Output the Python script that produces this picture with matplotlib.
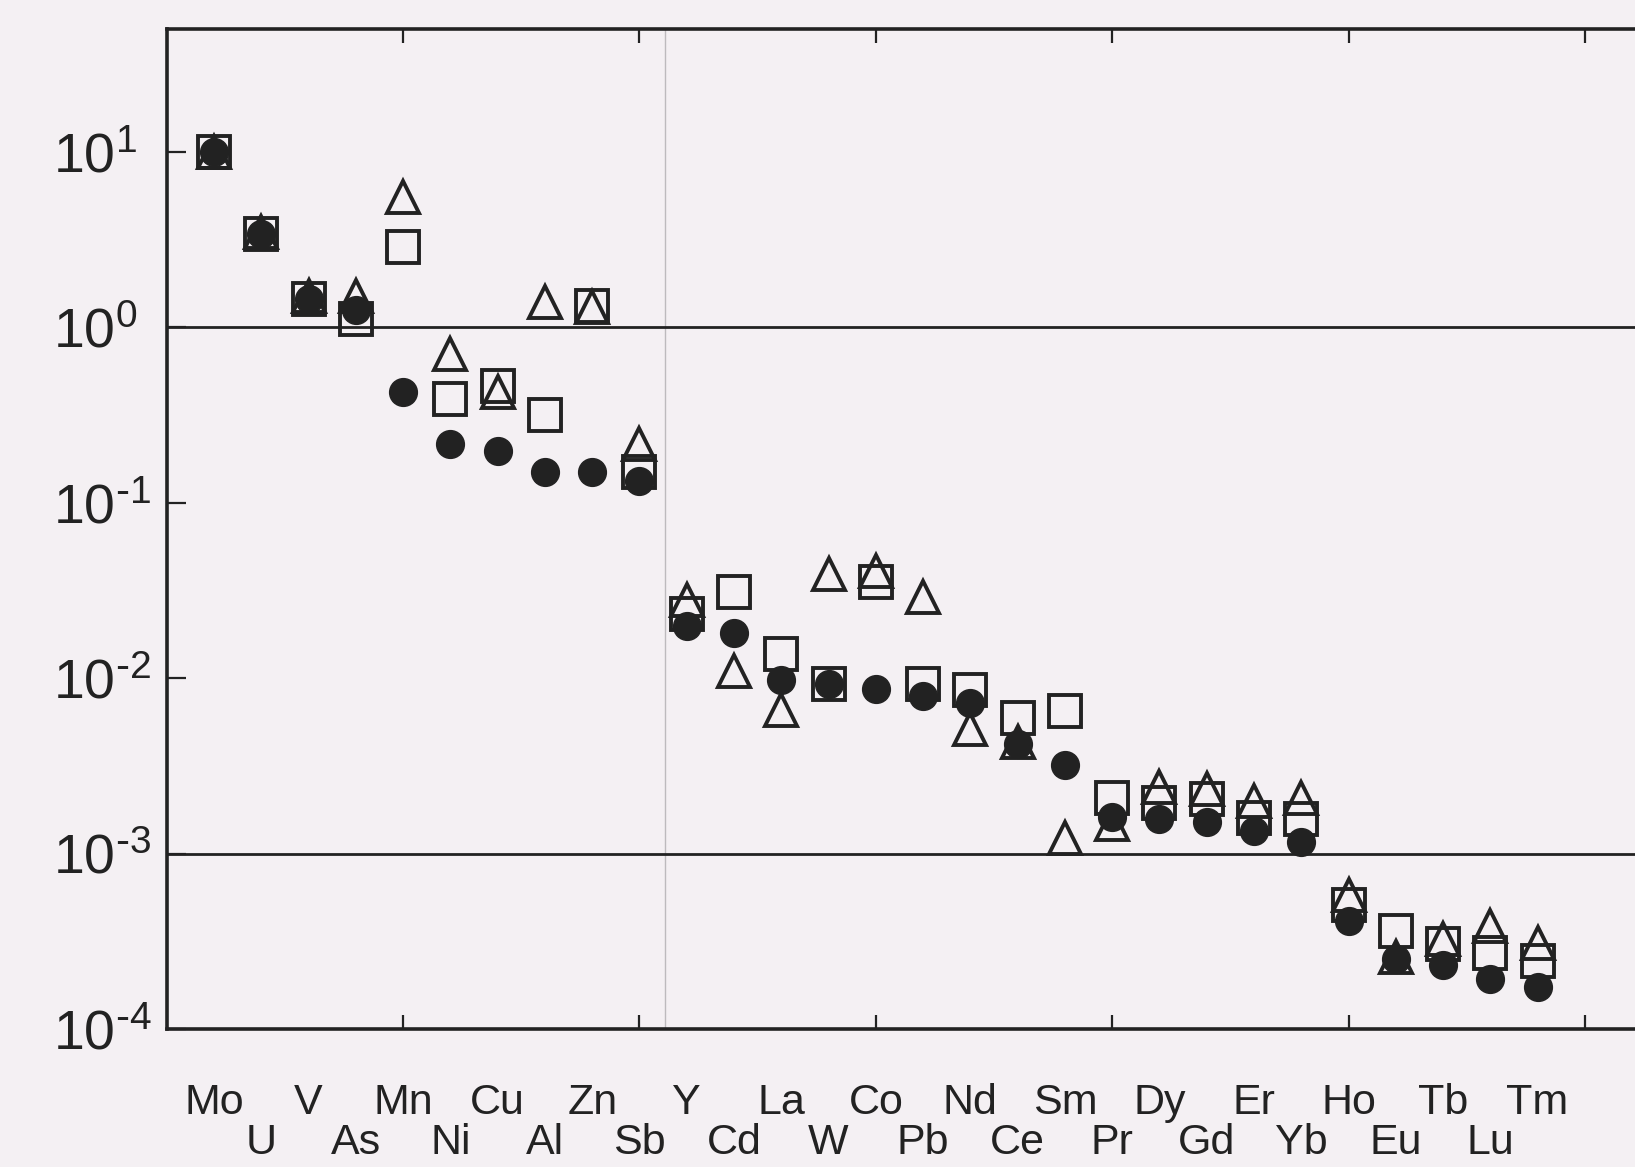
import matplotlib
matplotlib.use('Agg')
import matplotlib.pyplot as plt
from matplotlib.ticker import FixedLocator, NullFormatter

plt.rcParams['font.family'] = ['Liberation Sans', 'DejaVu Sans']
plt.rcParams['mathtext.default'] = 'regular'

# Elementos en el orden del eje x
elementos = ['Mo', 'U', 'V', 'As', 'Mn', 'Ni', 'Cu', 'Al', 'Zn', 'Sb',
             'Y', 'Cd', 'La', 'W', 'Co', 'Pb', 'Nd', 'Ce', 'Sm', 'Pr',
             'Dy', 'Gd', 'Er', 'Yb', 'Ho', 'Eu', 'Tb', 'Lu', 'Tm']

# Serie de circulos rellenos
circulos = [10, 3.4, 1.45, 1.25, 0.43, 0.215, 0.196, 0.149, 0.149, 0.133,
            0.0198, 0.0181, 0.0097, 0.0093, 0.0087, 0.0079, 0.0072, 0.0042, 0.0032, 0.00162,
            0.00157, 0.00152, 0.00135, 0.00117, 0.00041, 0.00025, 0.00023, 0.000193, 0.000173]

# Serie de cuadrados abiertos
cuadrados = [10, 3.4, 1.45, 1.12, 2.87, 0.39, 0.46, 0.316, 1.32, 0.15,
             0.0233, 0.0311, 0.0138, 0.0093, 0.0355, 0.0092, 0.0086, 0.0059, 0.0065, 0.00206,
             0.00195, 0.00204, 0.0016, 0.00158, 0.00051, 0.000361, 0.000306, 0.000272, 0.000245]

# Serie de triangulos abiertos
triangulos = [10, 3.5, 1.5, 1.5, 5.5, 0.70, 0.43, 1.39, 1.30, 0.215,
              0.0277, 0.0110, 0.0066, 0.039, 0.041, 0.029, 0.0051, 0.0043, 0.00122, 0.00148,
              0.0024, 0.00233, 0.0020, 0.00206, 0.00058, 0.000257, 0.000324, 0.000386, 0.00031]

etiquetas_y = ['$10^{\\text{-}4}$', '$10^{\\text{-}3}$', '$10^{\\text{-}2}$',
               '$10^{\\text{-}1}$', '$10^{0}$', '$10^{1}$']

fondo = '#f4f0f3'
tinta = '#222222'
x = list(range(1, len(elementos) + 1))

fig = plt.figure(figsize=(16.35, 11.67), dpi=100, facecolor=fondo)
ax = fig.add_axes([0.102, 0.1183, 0.898, 0.8567], facecolor=fondo)

# Linea tenue vertical del fondo
ax.axvline(10.55, color='#bdbabd', linewidth=1.0, zorder=0)

# Lineas de referencia en 10^0 y 10^-3
ax.axhline(1.0, color=tinta, linewidth=2.0, zorder=1)
ax.axhline(1e-3, color=tinta, linewidth=2.0, zorder=1)

ax.plot(x, circulos, linestyle='none', marker='o', markersize=20,
        markerfacecolor=tinta, markeredgecolor=tinta, zorder=3)
ax.plot(x, cuadrados, linestyle='none', marker='s', markersize=23,
        markerfacecolor='none', markeredgecolor=tinta, markeredgewidth=2.8, zorder=4)
ax.plot(x, triangulos, linestyle='none', marker='^', markersize=23,
        markerfacecolor='none', markeredgecolor=tinta, markeredgewidth=2.8, zorder=5)

ax.set_yscale('log')
ax.set_ylim(1e-4, 50)
ax.set_xlim(0, 31.06)

# Eje y: potencias de diez, alineadas a la izquierda
ax.yaxis.set_major_locator(FixedLocator([1e-4, 1e-3, 1e-2, 1e-1, 1e0, 1e1]))
ax.set_yticklabels(etiquetas_y)
ax.yaxis.set_minor_locator(FixedLocator([]))
ax.yaxis.set_minor_formatter(NullFormatter())
ax.tick_params(axis='y', which='major', direction='in', length=14, width=1.6,
               labelsize=40, pad=82, colors=tinta)
for lbl in ax.get_yticklabels():
    lbl.set_horizontalalignment('left')

# Eje x: nombres de elementos en dos filas
ax.set_xticks(x[0::2])
ax.set_xticklabels(elementos[0::2])
ax.set_xticks(x[1::2], minor=True)
ax.set_xticklabels(elementos[1::2], minor=True)
ax.tick_params(axis='x', which='major', length=0, labelsize=31, pad=39, colors=tinta)
ax.tick_params(axis='x', which='minor', length=0, labelsize=31, pad=68, colors=tinta)

# Marcas cada cinco posiciones, arriba y abajo
for lado in ['top', 'bottom']:
    sec = ax.secondary_xaxis(lado)
    sec.set_xticks([5, 10, 15, 20, 25, 30])
    sec.tick_params(axis='x', which='major', direction='in', length=10, width=1.6,
                    labelbottom=False, labeltop=False, colors=tinta)
    sec.tick_params(axis='x', which='minor', length=0)
    sec.spines[lado].set_visible(False)

for lado in ['left', 'bottom', 'top']:
    ax.spines[lado].set_linewidth(2.6)
    ax.spines[lado].set_color(tinta)
ax.spines['right'].set_visible(False)

plt.savefig('out.png', dpi=100, facecolor=fondo)
plt.close()
